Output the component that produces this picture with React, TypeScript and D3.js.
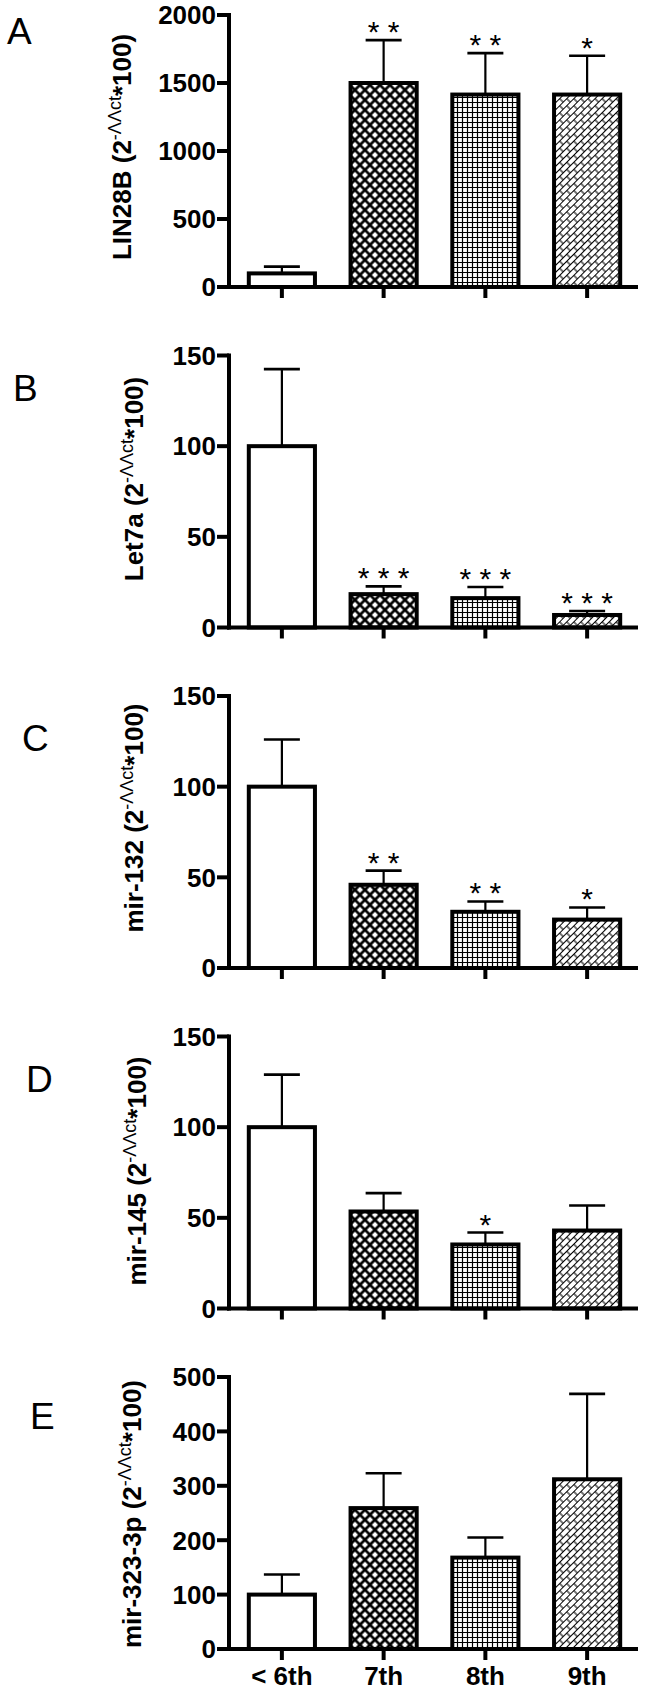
import React from "react";
import * as d3 from "d3";

const categories = ["< 6th", "7th", "8th", "9th"];

const lin28bMean = [100, 1500, 1415, 1415];
const lin28bSem = [50, 315, 305, 285];
const lin28bStars = ["", "* *", "* *", "*"];
const lin28bTicks = [0, 500, 1000, 1500, 2000];

const let7aMean = [100, 18.4, 16.2, 6.9];
const let7aSem = [42.5, 4.3, 6.1, 2.2];
const let7aStars = ["", "* * *", "* * *", "* * *"];
const let7aTicks = [0, 50, 100, 150];

const mir132Mean = [100, 45.9, 31, 26.7];
const mir132Sem = [26, 7.8, 5.7, 6.7];
const mir132Stars = ["", "* *", "* *", "*"];
const mir132Ticks = [0, 50, 100, 150];

const mir145Mean = [100, 53.5, 35.3, 43];
const mir145Sem = [29, 10.1, 6.6, 13.8];
const mir145Stars = ["", "", "*", ""];
const mir145Ticks = [0, 50, 100, 150];

const mir323Mean = [100, 259, 168, 312];
const mir323Sem = [37, 64, 37, 157];
const mir323Stars = ["", "", "", ""];
const mir323Ticks = [0, 100, 200, 300, 400, 500];

const panelLetters = ["A", "B", "C", "D", "E"];
const geneNames = ["LIN28B", "Let7a", "mir-132", "mir-145", "mir-323-3p"];

const FONT = "'Liberation Sans', Arial, Helvetica, sans-serif";
const fills = ["#ffffff", "url(#pCross)", "url(#pGrid)", "url(#pBrick)"];

const panels = [
  { mean: lin28bMean, sem: lin28bSem, stars: lin28bStars, ticks: lin28bTicks, top: 15, letterX: 7, letterY: 44, titleX: 131, titleY: 147 },
  { mean: let7aMean, sem: let7aSem, stars: let7aStars, ticks: let7aTicks, top: 355.5, letterX: 13, letterY: 401, titleX: 143, titleY: 479 },
  { mean: mir132Mean, sem: mir132Sem, stars: mir132Stars, ticks: mir132Ticks, top: 696, letterX: 22, letterY: 751, titleX: 143, titleY: 818 },
  { mean: mir145Mean, sem: mir145Sem, stars: mir145Stars, ticks: mir145Ticks, top: 1036.5, letterX: 26, letterY: 1092, titleX: 146, titleY: 1171 },
  { mean: mir323Mean, sem: mir323Sem, stars: mir323Stars, ticks: mir323Ticks, top: 1377, letterX: 30, letterY: 1429, titleX: 141, titleY: 1514 },
];

const PANEL_H = 272;
const AXIS_X = 229;
const AXIS_END = 638;

const x = d3.scaleBand<string>().domain(categories).range([231, 638]).paddingInner(0).paddingOuter(0);
const barW = x.bandwidth() * 0.65;

function Panel({ p, i }: { p: any; i: number }) {
  const maxT = p.ticks[p.ticks.length - 1];
  const y = d3.scaleLinear().domain([0, maxT]).range([p.top + PANEL_H, p.top]);
  const y0 = y(0);
  return (
    <g>
      <text x={p.letterX} y={p.letterY} fontFamily={FONT} fontSize={37} fill="#000">
        {panelLetters[i]}
      </text>
      <text
        transform={`translate(${p.titleX},${p.titleY}) rotate(-90)`}
        textAnchor="middle"
        fontFamily={FONT}
        fontSize={26}
        fontWeight="bold"
        fill="#000"
      >
        <tspan>{geneNames[i] + " (2"}</tspan>
        <tspan fontSize={18} fontWeight="normal" dy={-10}>-ΛΛct</tspan>
        <tspan dy={10}>{"*100)"}</tspan>
      </text>
      {categories.map((c, j) => {
        const cx = (x(c) as number) + x.bandwidth() / 2;
        const yt = y(p.mean[j]);
        const ye = y(p.mean[j] + p.sem[j]);
        return (
          <g key={c}>
            <line x1={cx} x2={cx} y1={yt} y2={ye} stroke="#000" strokeWidth={2.2} />
            <line x1={cx - 18} x2={cx + 18} y1={ye} y2={ye} stroke="#000" strokeWidth={2.6} />
            <rect x={cx - barW / 2} y={yt} width={barW} height={y0 - yt} fill={fills[j]} stroke="#000" strokeWidth={4} />
            {p.stars[j] ? (
              <text x={cx} y={ye + 2} textAnchor="middle" fontFamily={FONT} fontSize={30} fill="#000">
                {p.stars[j]}
              </text>
            ) : null}
          </g>
        );
      })}
      <line x1={AXIS_X} x2={AXIS_X} y1={y(maxT) - 2} y2={y0 + 2} stroke="#000" strokeWidth={4} />
      {p.ticks.map((t: number) => (
        <g key={t}>
          <line x1={AXIS_X - 12} x2={AXIS_X} y1={y(t)} y2={y(t)} stroke="#000" strokeWidth={4} />
          <text x={AXIS_X - 13} y={y(t) + 9.3} textAnchor="end" fontFamily={FONT} fontSize={26} fontWeight="bold" fill="#000">
            {t}
          </text>
        </g>
      ))}
      <line x1={AXIS_X - 2} x2={AXIS_END} y1={y0} y2={y0} stroke="#000" strokeWidth={4} />
      {categories.map((c) => {
        const cx = (x(c) as number) + x.bandwidth() / 2;
        return <line key={c} x1={cx} x2={cx} y1={y0} y2={y0 + 11} stroke="#000" strokeWidth={4} />;
      })}
      {i === panels.length - 1
        ? categories.map((c) => {
            const cx = (x(c) as number) + x.bandwidth() / 2;
            return (
              <text key={c} x={cx} y={y0 + 36} textAnchor="middle" fontFamily={FONT} fontSize={26} fontWeight="bold" fill="#000">
                {c}
              </text>
            );
          })
        : null}
    </g>
  );
}

export default function App() {
  return (
    <svg
      width={646}
      height={1692}
      viewBox="0 0 646 1692"
      style={{ position: "absolute", left: 0, top: 0, background: "#fff" }}
    >
      <defs>
        <pattern id="pCross" patternUnits="userSpaceOnUse" width={7.07} height={7.07} patternTransform="rotate(45)">
          <rect width={7.07} height={7.07} fill="#fff" />
          <path d="M0,3.535 H7.07 M3.535,0 V7.07" stroke="#000" strokeWidth={2.7} />
        </pattern>
        <pattern id="pGrid" patternUnits="userSpaceOnUse" width={5} height={5}>
          <rect width={5} height={5} fill="#fff" />
          <path d="M0,2.5 H5 M2.5,0 V5" stroke="#000" strokeWidth={1.2} />
        </pattern>
        <pattern id="pBrick" patternUnits="userSpaceOnUse" width={10} height={10} patternTransform="rotate(-45)">
          <rect width={10} height={10} fill="#fff" />
          <path d="M0,0.5 H10 M0,5.5 H10 M1,0.5 V5.5 M6,5.5 V10.5 M6,-0.5 V0.5" stroke="#000" strokeWidth={1.1} />
        </pattern>
      </defs>
      <rect width={646} height={1692} fill="#fff" />
      {panels.map((p, i) => (
        <Panel key={i} p={p} i={i} />
      ))}
    </svg>
  );
}
